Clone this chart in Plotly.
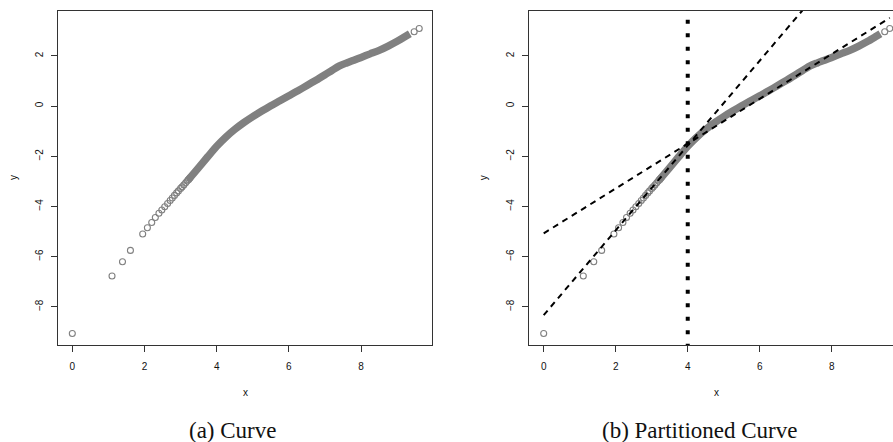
import plotly.graph_objects as go

W, H = 893, 442

# Sparse head of the curve, drawn as open circles
head_x = [0.00, 1.10, 1.39, 1.61, 1.95, 2.08, 2.20, 2.30, 2.40, 2.48, 2.56, 2.64,
          2.71, 2.77, 2.83, 2.89, 2.94, 3.00, 3.04, 3.09, 3.14, 3.18, 3.22, 3.26]
head_y = [-9.06, -6.77, -6.20, -5.75, -5.10, -4.85, -4.64, -4.44, -4.27, -4.14, -4.01, -3.88,
          -3.76, -3.66, -3.56, -3.46, -3.38, -3.28, -3.22, -3.14, -3.06, -2.99, -2.93, -2.86]

# Dense body of the curve (points overlap into a solid band)
body_x = [3.20, 3.50, 3.75, 4.00, 4.25, 4.50, 4.75, 5.00, 5.25, 5.50, 5.75, 6.00,
          6.25, 6.50, 6.75, 7.00, 7.20, 7.40, 7.60, 7.80, 8.00, 8.25, 8.50, 8.75,
          9.00, 9.20, 9.35]
body_y = [-2.96, -2.45, -2.02, -1.60, -1.24, -0.93, -0.66, -0.42, -0.20, 0.01, 0.21, 0.41,
          0.61, 0.82, 1.03, 1.25, 1.43, 1.60, 1.72, 1.83, 1.94, 2.08, 2.22, 2.39,
          2.58, 2.75, 2.88]

# Last two isolated points
tail_x = [9.47, 9.61]
tail_y = [2.96, 3.09]

# Partition point and the two straight-line fits
cut_x = 4.0
fit_intercepts = [-8.33, -5.07]
fit_slopes = [1.69, 0.893]
fit_span = [0.0, 9.61]

x_ticks = [0, 2, 4, 6, 8]
y_ticks = [-8, -6, -4, -2, 0, 2]

x_range_a = [-0.388, 9.964]
x_range_b = [-0.40, 9.70]
y_range = [-9.52, 3.80]

GREY = "#808080"
AXC = "#333333"
TICKFONT = dict(family="Liberation Sans, Arial, sans-serif", size=10, color="#111")

fig = go.Figure()


def add_curve(xa, ya):
    fig.add_trace(go.Scatter(x=body_x, y=body_y, mode="lines",
                             line=dict(color=GREY, width=7.5, shape="spline", smoothing=0.8),
                             xaxis=xa, yaxis=ya, showlegend=False, hoverinfo="skip"))
    fig.add_trace(go.Scatter(x=head_x + tail_x, y=head_y + tail_y, mode="markers",
                             marker=dict(symbol="circle-open", size=6,
                                         color=GREY, line=dict(width=1.1, color=GREY)),
                             xaxis=xa, yaxis=ya, showlegend=False, hoverinfo="skip"))


add_curve("x", "y")
add_curve("x2", "y2")

# Fitted dashed lines on the partitioned panel
for a, b in zip(fit_intercepts, fit_slopes):
    fig.add_trace(go.Scatter(x=fit_span, y=[a + b * v for v in fit_span], mode="lines",
                             line=dict(color="black", width=2, dash="6px,5px"),
                             xaxis="x2", yaxis="y2", showlegend=False, hoverinfo="skip"))

# Vertical dotted partition line (dash pattern starts at the bottom edge)
fig.add_shape(type="line", xref="x2", yref="y2", x0=cut_x, x1=cut_x, y0=-9.63, y1=4.2,
              line=dict(color="black", width=4, dash="4px,9.5px"), layer="above")

axis_common = dict(showgrid=False, zeroline=False, ticks="outside", ticklen=6,
                   tickwidth=1, tickcolor=AXC, showline=True, linecolor=AXC,
                   linewidth=1.3, tickfont=TICKFONT)

yd = [(H - 345) / H, (H - 10.7) / H]

fig.update_layout(
    width=W, height=H, margin=dict(l=0, r=0, t=0, b=0),
    paper_bgcolor="white", plot_bgcolor="white",
    xaxis=dict(domain=[58.3 / W, 432 / W], range=x_range_a, tickvals=x_ticks,
               mirror=True, ticklabelstandoff=6, anchor="y", **axis_common),
    yaxis=dict(domain=yd, range=y_range, tickvals=y_ticks, mirror=True,
               tickangle=-90, ticklabelstandoff=4, anchor="x", **axis_common),
    xaxis2=dict(domain=[529.3 / W, 1.0], range=x_range_b, tickvals=x_ticks,
                mirror=True, ticklabelstandoff=6, anchor="y2", **axis_common),
    yaxis2=dict(domain=yd, range=y_range, tickvals=y_ticks, mirror=False,
                tickangle=-90, ticklabelstandoff=4, anchor="x2", **axis_common),
)

LABFONT = dict(family="Liberation Sans, Arial, sans-serif", size=10, color="#111")
CAPFONT = dict(family="Liberation Serif, Times New Roman, serif", size=23, color="#111")


def px_x(p):
    return p / W


def px_y(p):
    return (H - p) / H


annotations = [
    dict(x=px_x(245.2), y=px_y(392), text="x", font=LABFONT),
    dict(x=px_x(716), y=px_y(392), text="x", font=LABFONT),
    dict(x=px_x(13), y=px_y(178), text="y", font=LABFONT, textangle=-90),
    dict(x=px_x(483.3), y=px_y(178), text="y", font=LABFONT, textangle=-90),
    dict(x=px_x(232.6), y=px_y(430), text="(a) Curve", font=CAPFONT),
    dict(x=px_x(699), y=px_y(430), text="(b) Partitioned Curve", font=CAPFONT),
]
for a in annotations:
    fig.add_annotation(xref="paper", yref="paper", showarrow=False,
                       xanchor="center", yanchor="middle", **a)

fig.write_html("out.html")
